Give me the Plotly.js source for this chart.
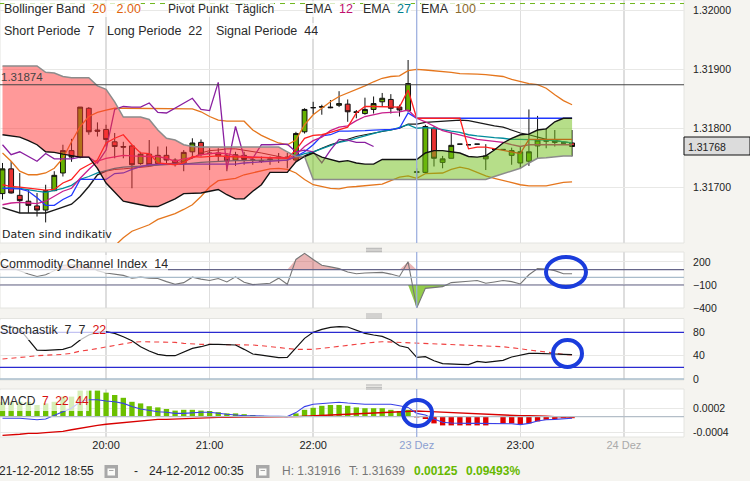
<!DOCTYPE html>
<html><head><meta charset="utf-8">
<script src="https://cdn.plot.ly/plotly-3.0.1.min.js"></script>
<style>html,body{margin:0;padding:0;background:#f5f4f0}#c{width:750px;height:481px}</style>
</head><body><div id="c"></div>
<script>
const cOpen=[1.31689,1.31731,1.31686,1.31676,1.31668,1.31661,1.31694,1.31724,1.31762,1.31751,
1.31834,1.31797,1.31798,1.31777,1.31769,1.31770,1.31740,1.31756,1.31740,1.31754,
1.31746,1.31740,1.31760,1.31776,1.31758,1.31758,1.31753,1.31746,1.31754,1.31746,
1.31745,1.31748,1.31751,1.31751,1.31746,1.31794,1.31835,1.31837,1.31836,1.31839,
1.31841,1.31828,1.31825,1.31832,1.31845,1.31849,1.31836,1.31830,1.31725,1.31725,
1.31800,1.31742,1.31749,1.31773,1.31772,1.31773,1.31748,1.31764,1.31764,1.31754,
1.31741,1.31744,1.31770,1.31778,1.31776,1.31775,1.31775];
const cClose=[1.31731,1.31690,1.31677,1.31669,1.31661,1.31694,1.31720,1.31762,1.31751,1.31836,
1.31794,1.31795,1.31781,1.31769,1.31768,1.31738,1.31756,1.31738,1.31754,1.31746,
1.31740,1.31759,1.31775,1.31756,1.31757,1.31753,1.31745,1.31755,1.31747,1.31746,
1.31744,1.31747,1.31750,1.31750,1.31791,1.31832,1.31835,1.31836,1.31835,1.31842,
1.31828,1.31827,1.31832,1.31842,1.31851,1.31834,1.31831,1.31876,1.31726,1.31803,
1.31749,1.31748,1.31771,1.31773,1.31772,1.31773,1.31753,1.31764,1.31764,1.31762,
1.31760,1.31760,1.31780,1.31779,1.31779,1.31775,1.31769];
const cHigh=[1.31741,1.31744,1.31724,1.31695,1.31690,1.31704,1.31727,1.31772,1.31782,1.31836,
1.31836,1.31810,1.31806,1.31792,1.31777,1.31772,1.31760,1.31780,1.31769,1.31769,
1.31749,1.31763,1.31783,1.31781,1.31766,1.31766,1.31758,1.31760,1.31760,1.31751,
1.31752,1.31752,1.31758,1.31758,1.31794,1.31834,1.31845,1.31840,1.31848,1.31863,
1.31849,1.31831,1.31852,1.31854,1.31860,1.31858,1.31840,1.31916,1.31732,1.31806,
1.31803,1.31753,1.31793,1.31773,1.31772,1.31773,1.31773,1.31764,1.31764,1.31767,
1.31769,1.31832,1.31821,1.31800,1.31797,1.31775,1.31797];
const cLow=[1.31679,1.31689,1.31656,1.31656,1.31650,1.31640,1.31693,1.31718,1.31743,1.31749,
1.31789,1.31786,1.31769,1.31749,1.31749,1.31698,1.31738,1.31738,1.31738,1.31738,
1.31735,1.31727,1.31749,1.31752,1.31729,1.31743,1.31727,1.31736,1.31738,1.31738,
1.31741,1.31738,1.31741,1.31732,1.31745,1.31791,1.31824,1.31823,1.31834,1.31836,
1.31811,1.31817,1.31823,1.31825,1.31837,1.31825,1.31820,1.31828,1.31717,1.31724,
1.31735,1.31732,1.31749,1.31773,1.31772,1.31773,1.31729,1.31764,1.31764,1.31738,
1.31732,1.31736,1.31749,1.31766,1.31769,1.31775,1.31752];
const spanB=[1.31906,1.31906,1.31906,1.31906,1.31906,1.31895,1.31894,1.31888,1.31886,1.31886,
1.31886,1.31872,1.31866,1.31845,1.31819,1.31819,1.31819,1.31815,1.31797,1.31783,
1.31780,1.31772,1.31769,1.31768,1.31768,1.31768,1.31768,1.31768,1.31768,1.31768,
1.31768,1.31768,1.31768,1.31760,1.31752,1.31752,1.31713,1.31713,1.31713,1.31713,
1.31713,1.31713,1.31713,1.31713,1.31713,1.31713,1.31713,1.31713,1.31713,1.31713,
1.31713,1.31713,1.31713,1.31713,1.31713,1.31713,1.31713,1.31718,1.31723,1.31727,
1.31732,1.31741,1.31749,1.31750,1.31752,1.31753,1.31753];
const spanA=[1.31789,1.31787,1.31785,1.31779,1.31772,1.31760,1.31759,1.31756,1.31753,1.31751,
1.31751,1.31732,1.31707,1.31691,1.31676,1.31673,1.31670,1.31667,1.31667,1.31673,
1.31680,1.31689,1.31690,1.31690,1.31693,1.31696,1.31687,1.31680,1.31680,1.31693,
1.31704,1.31725,1.31725,1.31725,1.31743,1.31752,1.31758,1.31751,1.31747,1.31743,
1.31745,1.31741,1.31739,1.31739,1.31747,1.31747,1.31747,1.31747,1.31747,1.31758,
1.31762,1.31762,1.31760,1.31758,1.31752,1.31751,1.31753,1.31763,1.31775,1.31783,
1.31789,1.31790,1.31797,1.31799,1.31811,1.31817,1.31817];
const bollUp=[1.31758,1.31744,1.31727,1.31721,1.31721,1.31724,1.31732,1.31749,1.31777,1.31803,
1.31820,1.31827,1.31831,1.31834,1.31834,1.31834,1.31834,1.31834,1.31833,1.31833,
1.31833,1.31833,1.31833,1.31828,1.31820,1.31814,1.31812,1.31812,1.31812,1.31797,
1.31788,1.31781,1.31775,1.31772,1.31780,1.31806,1.31823,1.31834,1.31845,1.31854,
1.31860,1.31865,1.31872,1.31879,1.31885,1.31888,1.31889,1.31898,1.31900,1.31899,
1.31898,1.31896,1.31895,1.31893,1.31893,1.31892,1.31891,1.31889,1.31888,1.31883,
1.31879,1.31876,1.31874,1.31868,1.31857,1.31847,1.31840];
const bollLow=[null,null,null,null,null,null,null,null,null,null,
null,null,null,1.31600,1.31614,1.31625,1.31631,1.31636,1.31645,1.31650,
1.31655,1.31662,1.31670,1.31684,1.31700,1.31711,1.31713,1.31715,1.31721,1.31724,
1.31728,1.31731,1.31732,1.31730,1.31724,1.31713,1.31704,1.31701,1.31698,1.31697,
1.31700,1.31701,1.31702,1.31703,1.31705,1.31711,1.31717,1.31719,1.31715,1.31723,
1.31724,1.31724,1.31730,1.31734,1.31731,1.31725,1.31719,1.31715,1.31711,1.31708,
1.31704,1.31702,1.31702,1.31702,1.31705,1.31708,1.31709];
const emaLong=[1.31698,1.31699,1.31698,1.31695,1.31693,1.31691,1.31694,1.31698,1.31703,1.31713,
1.31718,1.31724,1.31728,1.31732,1.31734,1.31735,1.31736,1.31737,1.31738,1.31738,
1.31739,1.31739,1.31741,1.31742,1.31743,1.31744,1.31744,1.31745,1.31745,1.31746,
1.31746,1.31746,1.31746,1.31746,1.31752,1.31757,1.31760,1.31765,1.31771,1.31776,
1.31779,1.31783,1.31787,1.31791,1.31795,1.31797,1.31802,1.31806,1.31800,1.31801,
1.31800,1.31797,1.31795,1.31793,1.31789,1.31787,1.31785,1.31784,1.31783,1.31781,
1.31781,1.31781,1.31780,1.31780,1.31779,1.31777,1.31775];
const kijun=[1.31698,1.31698,1.31697,1.31693,1.31682,1.31669,1.31669,1.31679,1.31686,1.31713,
1.31713,1.31713,1.31713,1.31723,1.31724,1.31730,1.31735,1.31738,1.31739,1.31739,
1.31739,1.31739,1.31739,1.31739,1.31739,1.31739,1.31739,1.31739,1.31741,1.31742,
1.31744,1.31745,1.31745,1.31746,1.31752,1.31760,1.31772,1.31787,1.31789,1.31795,
1.31795,1.31795,1.31796,1.31797,1.31797,1.31798,1.31800,1.31826,1.31817,1.31817,
1.31817,1.31817,1.31817,1.31817,1.31817,1.31817,1.31817,1.31817,1.31817,1.31817,
1.31817,1.31817,1.31817,1.31817,1.31817,1.31817,1.31817];
const tenkan=[1.31704,1.31701,1.31700,1.31698,1.31697,1.31695,1.31696,1.31707,1.31713,1.31730,
1.31738,1.31746,1.31775,1.31783,1.31789,1.31772,1.31758,1.31757,1.31741,1.31739,
1.31738,1.31741,1.31752,1.31751,1.31752,1.31753,1.31752,1.31751,1.31751,1.31750,
1.31750,1.31750,1.31749,1.31749,1.31763,1.31783,1.31788,1.31789,1.31793,1.31797,
1.31802,1.31826,1.31837,1.31837,1.31837,1.31837,1.31836,1.31865,1.31817,1.31817,
1.31817,1.31817,1.31817,1.31817,1.31765,1.31768,1.31768,1.31765,1.31763,1.31760,
1.31757,1.31781,1.31781,1.31781,1.31781,1.31781,1.31781];
const emaShort=[1.31670,1.31673,1.31674,1.31673,1.31672,1.31676,1.31684,1.31693,1.31698,1.31715,
1.31730,1.31744,1.31749,1.31752,1.31754,1.31753,1.31752,1.31752,1.31752,1.31749,
1.31744,1.31748,1.31750,1.31755,1.31757,1.31758,1.31757,1.31753,1.31752,1.31751,
1.31751,1.31750,1.31750,1.31749,1.31755,1.31769,1.31779,1.31785,1.31796,1.31802,
1.31804,1.31813,1.31820,1.31823,1.31826,1.31827,1.31828,1.31831,1.31817,1.31811,
1.31804,1.31796,1.31792,1.31789,1.31785,1.31781,1.31779,1.31777,1.31776,1.31772,
1.31769,1.31772,1.31772,1.31772,1.31772,1.31772,1.31772];
const emaMid=[1.31665,1.31661,1.31656,1.31656,1.31656,1.31656,1.31661,1.31666,1.31671,1.31684,
1.31701,1.31721,1.31727,1.31730,1.31731,1.31732,1.31734,1.31735,1.31738,1.31739,
1.31741,1.31744,1.31749,1.31758,1.31762,1.31763,1.31765,1.31765,1.31763,1.31760,
1.31758,1.31755,1.31752,1.31749,1.31749,1.31753,1.31760,1.31766,1.31772,1.31777,
1.31782,1.31786,1.31789,1.31792,1.31795,1.31797,1.31800,1.31807,1.31807,1.31810,
1.31811,1.31812,1.31813,1.31814,1.31813,1.31810,1.31806,1.31804,1.31802,1.31797,
1.31792,1.31789,1.31785,1.31781,1.31779,1.31777,1.31775];
const chikou=[1.31772,1.31755,1.31760,1.31752,1.31744,1.31757,1.31748,1.31748,1.31748,1.31751,
1.31751,1.31741,1.31763,1.31832,1.31837,1.31836,1.31836,1.31843,1.31827,1.31826,
1.31834,1.31843,1.31851,1.31832,1.31830,1.31878,1.31730,1.31803,1.31751,1.31749,
1.31772,1.31772,1.31773,1.31773,1.31760,1.31763,1.31760,1.31741,1.31763,1.31781,
1.31780,1.31776,1.31776,1.31769];
const cci=[167,131,87,42,11,33,87,158,167,167,
158,87,56,42,25,-11,2,-11,-15,-56,
-91,-69,2,-24,-42,-15,-60,7,-64,-95,
-87,-78,-11,-91,233,313,233,158,136,113,
69,47,56,64,64,42,11,202,-400,-144,
-135,-122,-69,-56,-51,-42,-78,-60,-42,-56,
-87,33,113,109,87,47,47];
const stochK=[89.7,89.7,85.7,66.9,49.7,49.1,49.7,50.9,55.4,66.9,
75.5,80,81.2,78.3,72.6,65.7,55.4,48,42.3,40,
40,45.7,52.6,55.4,59.4,59.4,58.3,58.3,50.9,42.9,
41.1,38.3,36.6,37.1,52.6,69.7,80,85.2,88.6,89.7,
89.2,84,78.3,75.5,73.1,66.9,57.1,53.7,37.1,38.3,
31.4,26.3,25.1,25.1,24.6,30.3,28.6,29.7,32,37.7,
41.1,44,44,42.9,42.9,42.3,41.7];
const stochD=[34.3,35.4,36.6,38.3,40,40.6,41.1,42.3,44,48,
49.7,52.6,55.4,58.3,61.1,62.9,64,64,64,63.4,
62.9,61.1,60,59.4,59.4,59.4,59.4,59.4,58.9,58.3,
57.1,55.4,53.7,52,50.9,50.9,50.9,52.6,54.3,56.6,
58.3,60.6,61.7,62.9,64,63.4,62.9,62.3,61.7,61.1,
61.1,60.6,60,59.4,58.3,57.7,57.1,56.6,55.4,53.7,
51.4,49.7,48,46.3,44,42.3,41.1];
const macdHist=[.00037,.00037,.00037,.00037,.00029,.00033,.00037,.0005,.0005,.00065,
.00065,.00065,.0006,.00054,.00047,.00037,.00033,.00026,.00023,.00019,
.00015,.00017,.00017,.00015,.00014,.00011,.00008,.00008,.00006,.00004,
.00002,.00001,.00001,.00001,.00008,.00017,.00022,.00027,.00029,.00029,
.00027,.00023,.00021,.00021,.00021,.00017,.00014,.00017,-.00002,-.00006,
-.00017,-.00022,-.00022,-.00022,-.00022,-.00022,-.00022,-.00001,-.00017,-.00017,
-.00019,-.00017,-.00012,-.00008,-.00006,-.00004,-.00004];
const macdLine=[-.00004,-.00004,-.00004,-.00006,-.00008,-.00006,.00004,.00012,.00021,.00037,
.00042,.00042,.00039,.00037,.00033,.00025,.00019,.00015,.00012,.00011,
.00008,.00008,.0001,.00011,.00011,.00008,.00006,.00004,.00002,.00002,
.00001,.00001,.00001,0,.0001,.00025,.00031,.00033,.00035,.00036,
.00034,.00032,.00031,.00031,.00031,.00031,.00027,.00023,.00008,.00004,
-.00006,-.00014,-.00016,-.00017,-.00017,-.00017,-.00017,-.00017,-.00017,-.00018,
-.0002,-.00017,-.00011,-.00008,-.00007,-.00005,-.00004];
const macdSignal=[-.00047,-.00046,-.00044,-.00042,-.00042,-.0004,-.00039,-.00037,-.00033,-.00029,
-.00025,-.00022,-.00019,-.00017,-.00014,-.00012,-.0001,-.00009,-.00007,-.00007,
-.00006,-.00005,-.00004,-.00003,-.00002,-.00002,-.00002,-.00001,-.00001,-.00001,
-.00001,-.00001,-.00001,-.00001,0,.00001,.00002,.00003,.00004,.00005,
.00006,.00007,.00007,.00008,.00009,.00011,.00012,.00013,.00014,.00013,
.00012,.00011,.00009,.00008,.00007,.00006,.00005,.00004,.00004,.00003,
.00002,.00002,.00002,.00001,0,-.00001,-.00002];
const timeTicks=[12,24,36,48,60,72];
const timeLabels=['20:00','21:00','22:00','<span style="color:#8c9fd0">23 Dez</span>','23:00','<span style="color:#aaaaaa">24 Dez</span>'];
const priceTicks=[1.317,1.318,1.319,1.32];
const pivotLevel=1.31874, pivotUpper=1.32012, lastPrice='1.31768';

const idx=cOpen.map((_,i)=>i);
const PW=684,PH=437;
const px=x=>x/PW, py=y=>(PH-y)/PH;
const seg=(a,s,e)=>a.slice(s,e);
const line=(y,color,yaxis,width,extra)=>Object.assign({type:'scatter',mode:'lines',x:idx.slice(0,y.length),y,yaxis:yaxis||'y',
  line:{color,width:width||1.3},hoverinfo:'skip',connectgaps:false},extra||{});
const part=(a,s,e,color,width)=>({type:'scatter',mode:'lines',x:seg(idx,s,e),y:seg(a,s,e),line:{color,width},hoverinfo:'skip'});

const traces=[
 {type:'candlestick',x:idx,open:cOpen,high:cHigh,low:cLow,close:cClose,yaxis:'y',hoverinfo:'skip',
  increasing:{line:{color:'#111',width:1},fillcolor:'#66b000'},
  decreasing:{line:{color:'#111',width:1},fillcolor:'#e83232'}},
 line(bollUp,'#e5761d'),
 line(bollLow,'#e5761d'),
 part(emaMid,0,13,'#1a1a1a',1.4),
 part(emaMid,12,36,'#7a2a2a',1),
 part(emaMid,35,67,'#1a1a1a',1.2),
 line(emaLong,'#008c9c'),
 line(kijun,'#2038ff'),
 line(chikou,'#8a1fa0'),
 line(emaShort,'#c81e8c'),
 line(tenkan,'#ff1f1f'),
 // cloud, above candles and lines
 part(spanB,0,36,'#8c8c8c',1.5),
 Object.assign(part(spanA,0,36,'#111',1.4),{fill:'tonexty',fillcolor:'rgba(255,51,51,0.5)'}),
 part(spanB,35,67,'#8c8c8c',1.5),
 Object.assign(part(spanA,35,67,'#111',1.4),{fill:'tonexty',fillcolor:'rgba(110,190,20,0.5)'}),
 // CCI
 line(idx.map(()=>100),'rgba(0,0,0,0)','y2',0.1),
 line(cci.map(v=>Math.max(v,100)),'rgba(0,0,0,0)','y2',0.1,{fill:'tonexty',fillcolor:'rgba(200,70,70,0.4)'}),
 line(idx.map(()=>-100),'rgba(0,0,0,0)','y2',0.1),
 line(cci.map(v=>Math.min(v,-100)),'rgba(0,0,0,0)','y2',0.1,{fill:'tonexty',fillcolor:'#93cc4a'}),
 line(cci,'#777777','y2',1.1),
 // Stochastik
 line(stochD,'#f04040','y3',1.1,{line:{color:'#f04040',width:1.1,dash:'5px,4px'}}),
 line(stochK,'#111111','y3',1.2),
 // MACD
 {type:'bar',x:idx,y:macdHist,yaxis:'y4',width:0.62,marker:{color:macdHist.map(v=>v>=0?'#6cc000':'#e00000'),line:{width:0}},hoverinfo:'skip'},
 line(macdSignal,'#d80000','y4',1.4),
 line(macdLine,'#3a40e8','y4',1.1)
];

const shapes=[];
const rectPx=(x0,y0,x1,y1,o)=>shapes.push(Object.assign({type:'rect',xref:'paper',yref:'paper',x0:px(x0),x1:px(x1),y0:py(y0),y1:py(y1),line:{width:0}},o||{}));
const hline=(yr,v,color,w,dash)=>shapes.push({type:'line',xref:'paper',yref:yr,x0:0,x1:1,y0:v,y1:v,line:{color,width:w||1,dash:dash||'solid'}});
const vmark=yr=>shapes.push({type:'line',xref:'x',yref:yr+' domain',x0:48,x1:48,y0:0,y1:1,line:{color:'#9aaee0',width:1.2}});
['y','y2','y3','y4'].forEach(vmark);
hline('y',pivotLevel,'#444444',1.2);
hline('y',pivotUpper,'#70b820',1,'5px,5px');
hline('y2',100,'#66668a',1.2); hline('y2',0,'#a9bccb',1.2); hline('y2',-100,'#66668a',1.2);
hline('y3',80,'#2a2ad0',1.2); hline('y3',20,'#2a2ad0',1.2); hline('y3',0,'#a9bccb',1.6);
hline('y4',0,'#b4bec8',1.2);
[[0,0,684,243],[0,252,684,308],[0,318.5,684,380],[0,389,684,437]].forEach(r=>rectPx(r[0],r[1],r[2],r[3],{line:{color:'#e4e4e0',width:1},layer:'below'}));
[248.3,250,251.7,314,316,318,385,387.3,389].forEach(y=>shapes.push({type:'line',xref:'paper',yref:'paper',x0:px(366),x1:px(382),y0:py(y),y1:py(y),line:{color:'#a0a0a0',width:0.8}}));
[[546,257,586,287],[553,340,582,367],[403,400,432,426]].forEach(e=>shapes.push({type:'circle',xref:'paper',yref:'paper',x0:px(e[0]),x1:px(e[2]),y0:py(e[1]),y1:py(e[3]),line:{color:'#1a3cdc',width:4}}));
rectPx(684,137,750,155,{fillcolor:'#dcdcdc',line:{color:'#111',width:1}});
[104.5,256].forEach(x=>{
 rectPx(x,465,x+13.5,478,{fillcolor:'#a8a8a8'});
 rectPx(x+3,468.5,x+10.5,475.5,{fillcolor:'#fbfbf8'});
 rectPx(x+4.5,470,x+9,471,{fillcolor:'#a8a8a8'});
});

const nb='\u00A0\u00A0';
const orange=t=>`<span style="color:#e0620a">${t}</span>`;
const red=t=>`<span style="color:#d81010">${t}</span>`;
const mask='rgba(255,255,255,0.72)';
const FONT='Liberation Sans, Arial, sans-serif';
const txt=(x,y,text,o)=>Object.assign({xref:'paper',yref:'paper',x:px(x),y:py(y),xanchor:'left',yanchor:'middle',text,showarrow:false,
  font:{family:FONT,size:12,color:'#2a2a2a'},borderpad:0,borderwidth:0},o||{});
const lab=(x,y,text,h,size)=>txt(x,y,text,{bgcolor:mask,height:h||16,valign:'middle',font:{family:FONT,size:size||12.5,color:'#2a2a2a'}});
const annotations=[
 lab(4,9.5,'Bollinger Band'+nb+orange('20')+nb+'\u00A0'+orange('2.00')),
 lab(168,9.5,'Pivot Punkt'+nb+'Täglich',16,12),
 lab(305,9.5,'EMA'+nb+'<span style="color:#c0106e">12</span>'),
 lab(363,9.5,'EMA'+nb+'<span style="color:#00808e">27</span>'),
 lab(421,9.5,'EMA'+nb+'<span style="color:#8a6a2e">100</span>'),
 lab(4,31,'Short Periode'+nb+'7'),
 lab(107,31,'Long Periode'+nb+'22'),
 lab(216,31,'Signal Periode'+nb+'44'),
 txt(1,77,'1.31874',{font:{family:FONT,size:11.5,color:'#444'}}),
 txt(2,234,'Daten sind indikativ',{font:{family:'DejaVu Sans, sans-serif',size:11,color:'#222'}}),
 lab(0,264,'Commodity Channel Index'+nb+'14',18),
 lab(0,330,'Stochastik'+nb+'7'+nb+'7'+nb+red('22'),20),
 lab(0,400.5,'MACD'+nb+red('7')+nb+red('22')+nb+red('44'),21,12),
 txt(688,147,lastPrice,{font:{family:FONT,size:10.5,color:'#222'}}),
 txt(-1,471,'21-12-2012 18:55'),
 txt(134,471,'-'),
 txt(149,471,'24-12-2012 00:35'),
 txt(282,471,'H: 1.31916',{font:{family:FONT,size:12,color:'#777'}}),
 txt(349,471,'T: 1.31639',{font:{family:FONT,size:12,color:'#777'}}),
 txt(414,471,'<b>0.00125</b>',{font:{family:FONT,size:12,color:'#66b800'}}),
 txt(466,471,'<b>0.09493%</b>',{font:{family:FONT,size:12,color:'#66b800'}})
];

const yBase={side:'right',showline:false,zeroline:false,ticks:'outside',ticklen:6,tickcolor:'rgba(0,0,0,0)',
  gridcolor:'#e8e8e6',gridwidth:1,anchor:'x',fixedrange:true,
  tickfont:{family:FONT,size:10.5,color:'#222'}};
const layout={
 width:750,height:481,margin:{l:0,r:66,t:0,b:44,pad:0},showlegend:false,
 paper_bgcolor:'#f5f4f0',plot_bgcolor:'#ffffff',
 barmode:'overlay',boxgap:0.2,
 xaxis:{range:[-0.29,78.97],anchor:'y4',tickmode:'array',tickvals:timeTicks,ticktext:timeLabels,ticks:'',
   showgrid:true,gridcolor:'#dedede',gridwidth:1.5,zeroline:false,showline:false,rangeslider:{visible:false},
   tickfont:{family:FONT,size:11,color:'#222'},fixedrange:true},
 yaxis:Object.assign({},yBase,{domain:[py(243),1],range:[1.31605,1.32018],tickmode:'array',tickvals:priceTicks,tickformat:'.5f'}),
 yaxis2:Object.assign({},yBase,{domain:[py(308),py(252)],range:[-400,330],tickmode:'array',tickvals:[200,-100,-400]}),
 yaxis3:Object.assign({},yBase,{domain:[py(380),py(318.5)],range:[-1.7,103.8],tickmode:'array',tickvals:[80,40,0]}),
 yaxis4:Object.assign({},yBase,{domain:[0,py(389)],range:[-0.00051,0.00069],tickmode:'array',tickvals:[0.0002,-0.0004],ticktext:['0.0002','-0.0004']}),
 shapes,annotations
};
Plotly.newPlot('c',traces,layout,{displayModeBar:false,staticPlot:true});
</script></body></html>
